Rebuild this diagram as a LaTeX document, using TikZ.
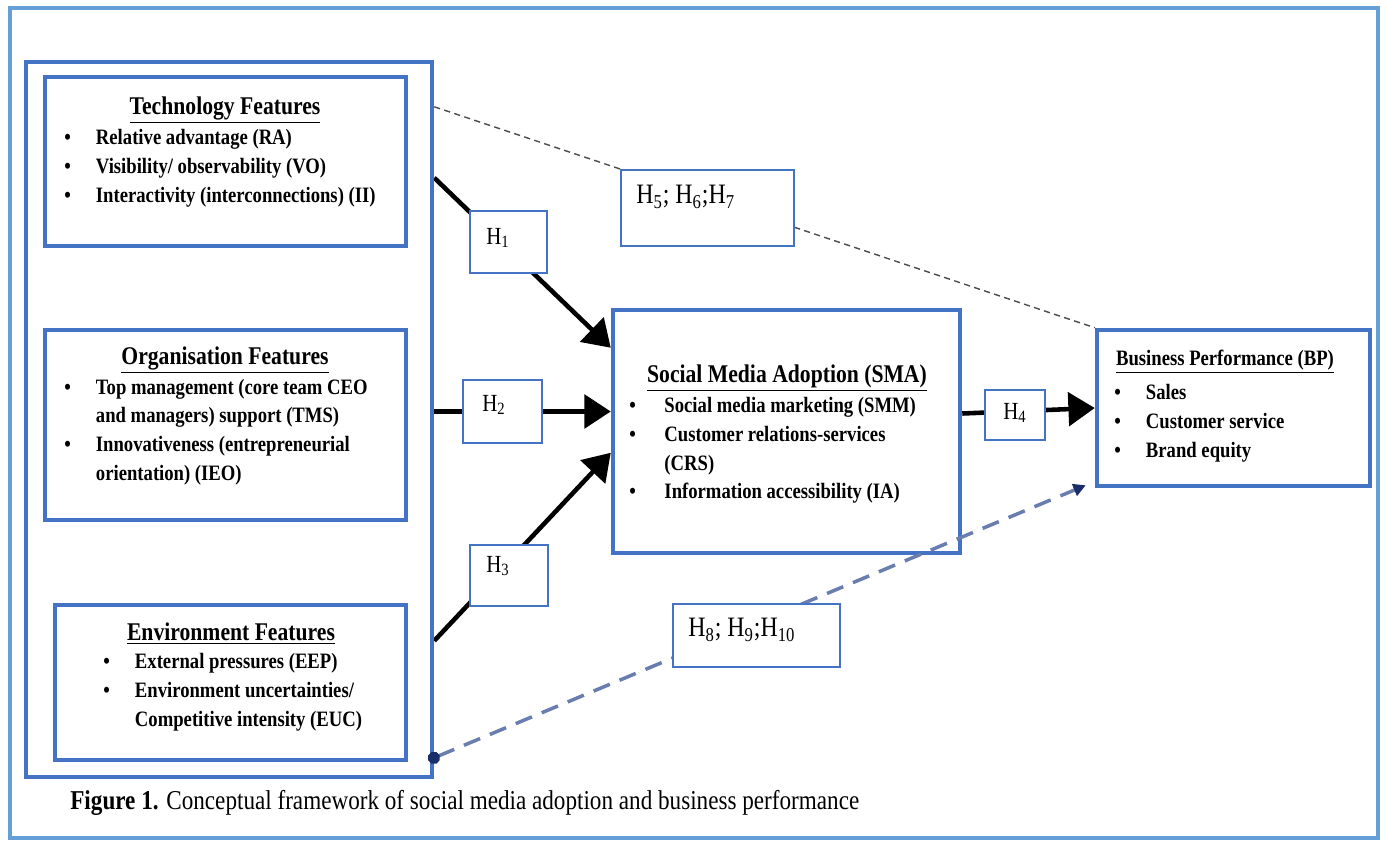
\documentclass[tikz,border=0pt]{standalone}
\usepackage{fontspec}
\setmainfont{Liberation Serif}[FakeStretch=0.85]
\usepackage{tikz}
\usetikzlibrary{arrows.meta,positioning,calc,backgrounds}
\usepackage{xcolor}

\definecolor{boxblue}{RGB}{68,114,196}
\definecolor{frameblue}{RGB}{100,160,215}
\definecolor{navy}{RGB}{25,45,105}
\definecolor{dashblue}{RGB}{105,125,175}

\tikzset{
  featbox/.style={draw=boxblue, line width=2.6pt, fill=white, inner sep=0pt},
  hbox/.style={draw=boxblue, line width=0.8pt, fill=white, inner sep=0pt},
  head/.style={font=\bfseries\fontsize{14.5}{17}\selectfont, inner sep=0pt},
  items/.style={font=\bfseries\fontsize{12.5}{16.4}\selectfont, inner sep=0pt, anchor=west},
  hlabel/.style={font=\fontsize{14}{16}\selectfont, inner sep=0pt, anchor=west},
  biglabel/.style={font=\fontsize{16}{18}\selectfont, inner sep=0pt, anchor=west},
  thickarrow/.style={line width=2.6pt, -{Triangle[length=15pt,width=19pt]}}
}

\begin{document}
\begin{tikzpicture}[x=0.02cm, y=-0.02cm]
    \useasboundingbox (0,0) rectangle (1386,840);
    \draw[frameblue, line width=2.2pt] (10,8) rectangle (1378,838);

    % Feature boxes
    \node[featbox, minimum width=8.12cm, minimum height=14.3cm] (left) at (229,419.5) {};
    \node[featbox, minimum width=7.22cm, minimum height=3.38cm] (tech) at (225.5,161.5) {};
    \node[featbox, minimum width=7.22cm, minimum height=3.8cm] (org) at (225.5,425) {};
    \node[featbox, minimum width=7.02cm, minimum height=3.1cm] (env) at (230.5,682.5) {};
    \node[featbox, minimum width=6.94cm, minimum height=4.86cm] (sma) at (786.5,431.5) {};
    \node[featbox, minimum width=5.46cm, minimum height=3.12cm] (bp) at (1233.5,408) {};

    \node[head] (techhead) at (225,110) {\underline{Technology Features}};
    \node[items] (techlist) at (64,168) {\begin{tabular}{@{}p{18pt}@{}l@{}}
        \textbullet & Relative advantage (RA)\\
        \textbullet & Visibility/ observability (VO)\\
        \textbullet & Interactivity (interconnections) (II)
    \end{tabular}};

    \node[head] (orghead) at (225,360) {\underline{Organisation Features}};
    \node[items] (orglist) at (64,431.5) {\begin{tabular}{@{}p{18pt}@{}l@{}}
        \textbullet & Top management (core team CEO\\
        & and managers) support (TMS)\\
        \textbullet & Innovativeness (entrepreneurial\\
        & orientation) (IEO)
    \end{tabular}};

    \node[head] (envhead) at (231,634) {\underline{Environment Features}};
    \node[items] (envlist) at (103,692) {\begin{tabular}{@{}p{18pt}@{}l@{}}
        \textbullet & External pressures (EEP)\\
        \textbullet & Environment uncertainties/\\
        & Competitive intensity (EUC)
    \end{tabular}};

    \node[head] (smahead) at (787,378) {\underline{Social Media Adoption (SMA)}};
    \node[items] (smalist) at (629,450) {\begin{tabular}{@{}p{20pt}@{}l@{}}
        \textbullet & Social media marketing (SMM)\\
        \textbullet & Customer relations-services\\
        & (CRS)\\
        \textbullet & Information accessibility (IA)
    \end{tabular}};

    \node[head, font=\bfseries\fontsize{12.5}{15}\selectfont] (bphead) at (1225,362) {\underline{Business Performance (BP)}};
    \node[items] (bplist) at (1114,423) {\begin{tabular}{@{}p{18pt}@{}l@{}}
        \textbullet & Sales\\
        \textbullet & Customer service\\
        \textbullet & Brand equity
    \end{tabular}};

    % Moderating link, over SMA but under the H8 box
    \draw[dashblue, line width=2pt, dash pattern=on 10pt off 6pt,
        {Circle[color=navy,length=7pt]}-{Triangle[color=navy,length=7pt,width=7pt]}]
        ($(left.south east)+(-6,-19)$) -- ($(bp.south west)+(-9,-3)$);

    % Hypothesis boxes
    \node[hbox, minimum width=1.54cm, minimum height=1.24cm] (h1) at (508.5,242) {};
    \node[hlabel] (h1txt) at (486,238) {H\textsubscript{1}};
    \node[hbox, minimum width=1.58cm, minimum height=1.26cm] (h2) at (502.5,411.5) {};
    \node[hlabel] (h2txt) at (482,405) {H\textsubscript{2}};
    \node[hbox, minimum width=1.56cm, minimum height=1.22cm] (h3) at (509,575.5) {};
    \node[hlabel] (h3txt) at (486,566) {H\textsubscript{3}};
    \node[hbox, minimum width=1.2cm, minimum height=1.0cm] (h4) at (1015,415) {};
    \node[hlabel] (h4txt) at (1003,413) {H\textsubscript{4}};
    \node[hbox, minimum width=3.46cm, minimum height=1.52cm] (h5) at (707.5,208) {};
    \node[biglabel] (h5txt) at (636,197) {H\textsubscript{5}; H\textsubscript{6};H\textsubscript{7}};
    \node[hbox, minimum width=3.34cm, minimum height=1.26cm] (h8) at (756.5,635.5) {};
    \node[biglabel] (h8txt) at (688,630) {H\textsubscript{8}; H\textsubscript{9};H\textsubscript{10}};

    % Links
    \begin{pgfonlayer}{background}
    \draw[thickarrow] ($(left.north east)+(0,118)$) -- ($(sma.north west)+(0,40)$);
    \draw[thickarrow] (left.east |- h2) -- (sma.west |- h2);
    \draw[thickarrow] ($(left.north east)+(0,581)$) -- ($(sma.north west)+(0,145)$);
    \draw[thickarrow] ($(sma.east)+(0,-18)$) -- (bp.west);
    \draw[black!70, line width=0.8pt, dash pattern=on 3.5pt off 2.5pt] ($(left.north east)+(0,47)$) -- (bp.north west);
    \end{pgfonlayer}

    \node[font=\fontsize{15.5}{18}\selectfont, anchor=west, inner sep=0pt] (caption) at (70,803)
        {\textbf{Figure 1.} Conceptual framework of social media adoption and business performance};
\end{tikzpicture}
\end{document}
